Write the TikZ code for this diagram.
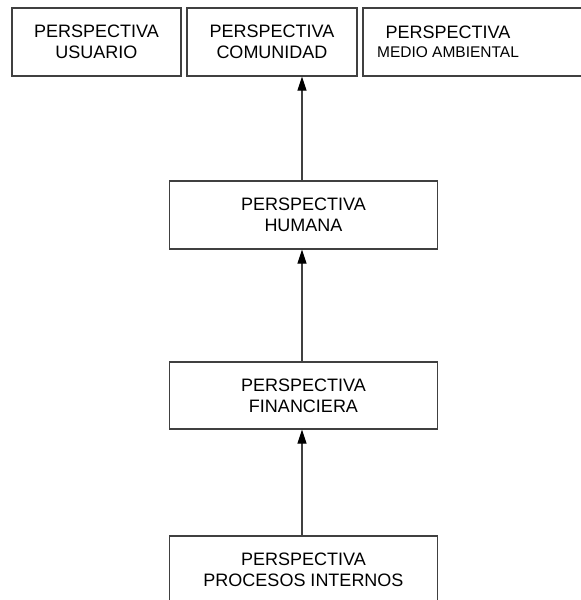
\documentclass[tikz,border=0pt]{standalone}
\usepackage{fontspec}
\setmainfont{Liberation Sans}
\usetikzlibrary{arrows.meta}

\tikzset{
    marco/.style = {
        draw=black!75,
        line width=1.3pt
    },
    caja/.style = {
        marco,
        rectangle,
        align=center,
        inner sep=0pt,
        font=\fontsize{18}{21}\selectfont
    },
    flecha/.style = {
        marco,
        -{Triangle[length=14pt,width=9pt,fill=black,color=black]}
    }
}

\begin{document}
\begin{tikzpicture}[x=1pt,y=-1pt]
    \useasboundingbox (0,0) rectangle (581,600);
    \clip (0,0) rectangle (581,600);

    % Draw top row
    \node[caja, minimum width=169, minimum height=68] (usuario) at (96.5,42) {PERSPECTIVA\\USUARIO};
    \node[caja, minimum width=170, minimum height=68] (comunidad) at (272,42) {PERSPECTIVA\\COMUNIDAD};
    \node[caja, draw=none, outer sep=0pt, minimum width=170, minimum height=68] (medio) at (448,42) {PERSPECTIVA\\[-2pt]{\fontsize{15.5}{17}\selectfont MEDIO AMBIENTAL}};
    \draw[marco] ([xshift=60pt]medio.north east) -- (medio.north west) -- (medio.south west) -- ([xshift=60pt]medio.south east);

    % Draw middle column
    \node[caja, minimum width=268, minimum height=68] (humana) at (303.5,215) {PERSPECTIVA\\HUMANA};
    \node[caja, minimum width=268, minimum height=67] (financiera) at (303.5,395.5) {PERSPECTIVA\\FINANCIERA};
    \node[caja, minimum width=268, minimum height=68] (procesos) at (303.5,570) {PERSPECTIVA\\PROCESOS INTERNOS};

    % Draw arrows
    \draw[flecha] ([xshift=-1.5pt]humana.north) -- ([xshift=-1.5pt]humana.north |- comunidad.south);
    \draw[flecha] ([xshift=-1.5pt]financiera.north) -- ([xshift=-1.5pt]humana.south);
    \draw[flecha] ([xshift=-1.5pt]procesos.north) -- ([xshift=-1.5pt]financiera.south);
\end{tikzpicture}
\end{document}
